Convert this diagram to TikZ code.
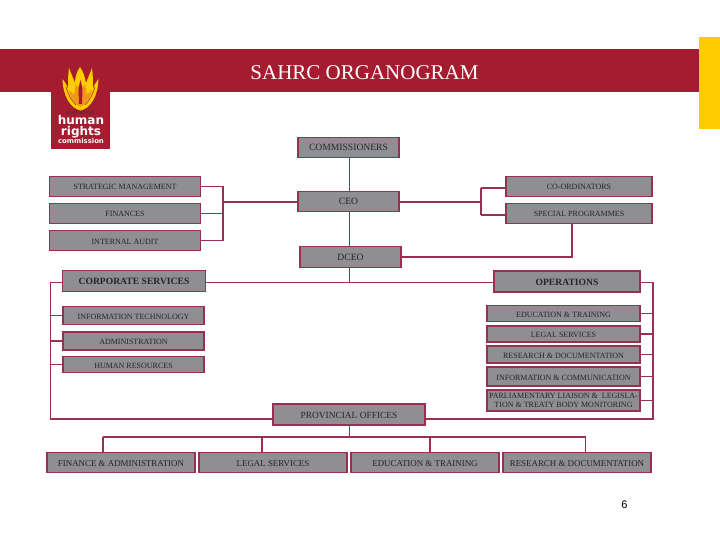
\documentclass[tikz,border=0pt]{standalone}
\usepackage{fontspec}
\setmainfont{Liberation Serif}
\newfontfamily\logofont{DejaVu Sans}
\newfontfamily\pagefont{Liberation Sans}
\usepackage{xcolor}
\usetikzlibrary{positioning}
\definecolor{sahrcred}{HTML}{A51C30}
\definecolor{sahrcline}{HTML}{983050}
\definecolor{sahrcgrey}{HTML}{8E8E93}
\definecolor{sahrcyellow}{HTML}{FFCC00}
\definecolor{flameorange}{HTML}{F0961C}

\begin{document}
\begin{tikzpicture}[x=1pt,y=-1pt,on grid]
    \tikzstyle{box}=[shape=rectangle,draw=sahrcline,line width=1.1pt,fill=sahrcgrey,outer sep=0pt,inner sep=0pt,
        text=black!85,text height=7pt,text depth=0pt,font=\fontsize{8}{9}\selectfont]
    \tikzstyle{topbox}=[box,minimum width=101pt,minimum height=20.5pt,font=\fontsize{9.6}{10}\selectfont]
    \tikzstyle{sidebox}=[box,minimum width=151pt,minimum height=20.5pt]
    \tikzstyle{headbox}=[box,minimum width=143pt,minimum height=21pt,font=\bfseries\fontsize{9.6}{10}\selectfont]
    \tikzstyle{leftbox}=[box,minimum width=141pt]
    \tikzstyle{rightbox}=[box,minimum width=153pt]
    \tikzstyle{provbox}=[box,minimum width=148pt,minimum height=20.5pt,font=\fontsize{8.9}{10}\selectfont]
    \tikzstyle{link}=[draw=sahrcline,line width=1.2pt]
    \tikzstyle{logotext}=[text=white,anchor=base,inner sep=0pt,font=\logofont\bfseries\fontsize{12}{12}\selectfont]

    \useasboundingbox (0,0) rectangle (720,540);

    % banner
    \fill[sahrcyellow] (699,37) rectangle (720,129);
    \fill[sahrcred] (0,49) rectangle (699,92);
    \fill[sahrcred] (51,92) rectangle (110,149);
    \node[text=white,font=\fontsize{21}{22}\selectfont] (T) at (364.5,72.5) {SAHRC ORGANOGRAM};

    % logo
    \fill[sahrcyellow] (80.5,110.5) .. controls (70,108) and (63,96) .. (62.5,79)
        .. controls (65,82) and (67,85) .. (68,89) .. controls (68,82) and (68,75) .. (69,68)
        .. controls (71,73) and (73,78) .. (75,83) .. controls (75,77) and (77,71) .. (80,67)
        .. controls (83,71) and (85,77) .. (86,83) .. controls (88,78) and (90,73) .. (92,68)
        .. controls (93,75) and (93,82) .. (93,89) .. controls (94,85) and (96,82) .. (98.5,79)
        .. controls (98,96) and (91,108) .. (80.5,110.5) -- cycle;
    \fill[flameorange] (80.5,107) .. controls (74,104) and (70,97) .. (69,90)
        -- (74,95) -- (76,84) -- (80.5,92) -- (85,84) -- (87,95) -- (92,90)
        .. controls (91,97) and (87,104) .. (80.5,107) -- cycle;
    \fill[sahrcred] (79,104) -- (78.5,88) -- (80.5,80) -- (82.5,88) -- (82,104) -- cycle;
    \draw[sahrcred,line width=.5pt] (76,105) .. controls (71,100) and (68,94) .. (66,87);
    \draw[sahrcred,line width=.5pt] (85,105) .. controls (90,100) and (93,94) .. (95,87);
    \node[text=black!80,anchor=base,inner sep=0pt,font=\logofont\fontsize{4.4}{5}\selectfont] (L0) at (80.5,115) {south african};
    \node[logotext] (L1) at (81,125) {human};
    \node[logotext, font=\logofont\bfseries\fontsize{12}{12}\selectfont] (L2) at (81,135.5) {rights};
    \node[logotext, font=\logofont\bfseries\fontsize{6.9}{7}\selectfont] (L3) at (81,144) {commission};

    % centre column
    \node[topbox] (A0) at (348.5,147.5) {COMMISSIONERS};
    \node[topbox, below=54pt of A0] (A1) {CEO};
    \node[topbox, below right=55.5pt and 2pt of A1] (A2) {DCEO};

    % top left and top right
    \node[sidebox] (B0) at (125,186.5) {STRATEGIC MANAGEMENT};
    \node[sidebox, below=27pt of B0] (B1) {FINANCES};
    \node[sidebox, below=27pt of B1] (B2) {INTERNAL AUDIT};
    \node[sidebox, minimum width=146pt] (C0) at (579,186.5) {CO-ORDINATORS};
    \node[sidebox, minimum width=146pt, below=27pt of C0] (C1) {SPECIAL PROGRAMMES};

    % corporate services
    \node[headbox] (D0) at (134,281) {CORPORATE SERVICES};
    \node[leftbox, minimum height=18.5pt] (D1) at (133.5,315.5) {INFORMATION TECHNOLOGY};
    \node[leftbox, minimum height=18pt, below=25.5pt of D1] (D2) {ADMINISTRATION};
    \node[leftbox, minimum height=16.5pt, below=23.5pt of D2] (D3) {HUMAN RESOURCES};

    % operations
    \node[headbox, minimum width=146pt] (E0) at (567,281.5) {OPERATIONS};
    \node[rightbox, minimum height=16.5pt] (E1) at (563.5,313.5) {EDUCATION \& TRAINING};
    \node[rightbox, minimum height=16pt, below=20.5pt of E1] (E2) {LEGAL SERVICES};
    \node[rightbox, minimum height=17pt, below=20.5pt of E2] (E3) {RESEARCH \& DOCUMENTATION};
    \node[rightbox, minimum height=19pt, below=22pt of E3] (E4) {INFORMATION \& COMMUNICATION};
    \node[rightbox, minimum height=21pt, below=24pt of E4, align=center, text height=, text depth=, font=\fontsize{8}{9.5}\selectfont] (E5) {PARLIAMENTARY LIAISON \&\ \ LEGISLA-\\TION \& TREATY BODY MONITORING};

    % provincial offices
    \node[box, minimum width=152pt, minimum height=21pt, font=\fontsize{9.4}{10}\selectfont] (F0) at (349,414.5) {PROVINCIAL OFFICES};
    \node[provbox] (G0) at (121,462.5) {FINANCE \& ADMINISTRATION};
    \node[provbox, right=152pt of G0] (G1) {LEGAL SERVICES};
    \node[provbox, right=152pt of G1] (G2) {EDUCATION \& TRAINING};
    \node[provbox, right=152pt of G2] (G3) {RESEARCH \& DOCUMENTATION};

    \node[font=\pagefont\fontsize{11}{12}\selectfont] (P) at (624.5,504.5) {6};

    % rails and bends
    \coordinate (X0) at (223,202);
    \coordinate (X1) at (481,202);
    \coordinate (Y0) at (50.5,282.5);
    \coordinate (Y1) at (50.5,419);
    \coordinate (Z0) at (653,282.5);
    \coordinate (Z1) at (653,419);
    \coordinate (W0) at (349.5,437);
    \coordinate (H0) at (349.5,282.5);
    \coordinate (Q0) at (103,437);
    \coordinate (Q1) at (262,437);
    \coordinate (Q2) at (430,437);
    \coordinate (Q3) at (585.5,437);
    \coordinate (S0) at (572,224);
    \coordinate (C2) at (481,188);
    \coordinate (C3) at (481,215);

    \draw[link] (A0.south -| H0) -- (A1.north -| H0);
    \draw[link] (A1.south -| H0) -- (A2.north -| H0);
    \draw[link] (A2.south -| H0) -- (H0);
    \draw[link] (D0.east |- H0) -- (E0.west |- H0);

    \draw[link] (X0) -- (X0 -| A1.west);
    \draw[link] (B0) -| (X0);
    \draw[link] (B1) -| (X0);
    \draw[link] (B2) -| (X0);

    \draw[link] (X1) -- (A1.east |- X1);
    \draw[link] (C3) -- (C2);
    \draw[link] (C2) -- (C2 -| C0.west);
    \draw[link] (C3) -- (C3 -| C1.west);
    \draw[link] (S0) |- (A2);

    \draw[link] (D0.west |- Y0) -- (Y0) -- (Y1) -- (Y1 -| F0.west);
    \draw[link] (D1) -- (D1 -| Y0);
    \draw[link] (D2) -- (D2 -| Y0);
    \draw[link] (D3) -- (D3 -| Y0);

    \draw[link] (E0.east |- Z0) -- (Z0) -- (Z1) -- (Z1 -| F0.east);
    \draw[link] (E1) -- (E1 -| Z0);
    \draw[link] (E2) -- (E2 -| Z0);
    \draw[link] (E3) -- (E3 -| Z0);
    \draw[link] (E4) -- (E4 -| Z0);
    \draw[link] (E5) -- (E5 -| Z0);

    \draw[link] (F0.south -| W0) -- (W0);
    \draw[link] (Q0) -- (Q3);
    \draw[link] (Q0) -- (Q0 |- G0.north);
    \draw[link] (Q1) -- (Q1 |- G1.north);
    \draw[link] (Q2) -- (Q2 |- G2.north);
    \draw[link] (Q3) -- (Q3 |- G3.north);
\end{tikzpicture}
\end{document}
